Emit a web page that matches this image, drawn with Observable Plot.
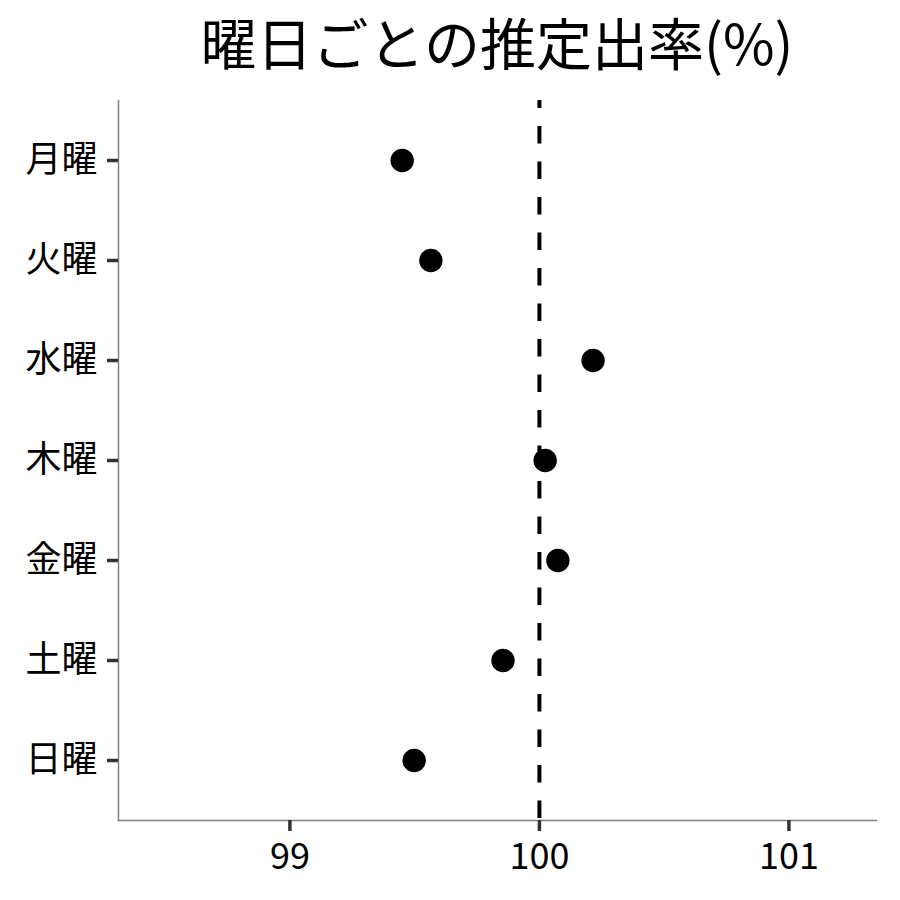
<!DOCTYPE html>
<html>
<head>
<meta charset="utf-8">
<script src="https://cdn.jsdelivr.net/npm/d3@7"></script>
<script src="https://cdn.jsdelivr.net/npm/@observablehq/plot@0.6"></script>
<style>
  html, body { margin: 0; padding: 0; background: #fff; }
  #title {
    width: 900px; height: 90px; box-sizing: border-box;
    font-family: "Noto Sans CJK JP", sans-serif; font-size: 56px;
    color: #000; line-height: 82px; white-space: nowrap; overflow: hidden;
    padding-left: 118px; padding-right: 24px; text-align: center;
  }
  svg { display: block; }
</style>
</head>
<body>
<div id="title">曜日ごとの推定出率(%)</div>
<div id="chart"></div>
<script>
const days = ["月曜", "火曜", "水曜", "木曜", "金曜", "土曜", "日曜"];
const rates = [99.45, 99.565, 100.215, 100.023, 100.074, 99.854, 99.498];
const xTicks = [99, 100, 101];
const refValue = [100];
const xDomain = [98.313, 101.351];

const data = days.map((d, i) => ({day: d, rate: rates[i]}));

const font = '"Noto Sans CJK JP", sans-serif';

const chart = Plot.plot({
  width: 900,
  height: 810,
  marginTop: 10,
  marginBottom: 80,
  marginLeft: 118,
  marginRight: 24,
  style: {fontFamily: font, background: "#fff", color: "#000"},
  x: {domain: xDomain, ticks: xTicks, axis: null},
  y: {type: "point", domain: days, padding: 0.6, axis: null},
  marks: [
    Plot.frame({anchor: "left", stroke: "#808080", strokeWidth: 1.5}),
    Plot.frame({anchor: "bottom", stroke: "#808080", strokeWidth: 1.5}),
    Plot.ruleX(refValue, {stroke: "#000", strokeWidth: 4, strokeDasharray: "17.5,18", strokeDashoffset: 9.6}),
    Plot.axisY({tickSize: 11, tickPadding: 10, stroke: "#333", strokeWidth: 3.5, fontSize: 36, fill: "#000", label: null}),
    Plot.axisX({ticks: xTicks, tickSize: 11, tickPadding: 12, stroke: "#333", strokeWidth: 3.5, fontSize: 36, fill: "#000", label: null, tickFormat: d => String(d)}),
    Plot.dot(data, {x: "rate", y: "day", r: 11.7, fill: "#000", stroke: "none"})
  ]
});
document.getElementById("chart").appendChild(chart);
</script>
</body>
</html>
